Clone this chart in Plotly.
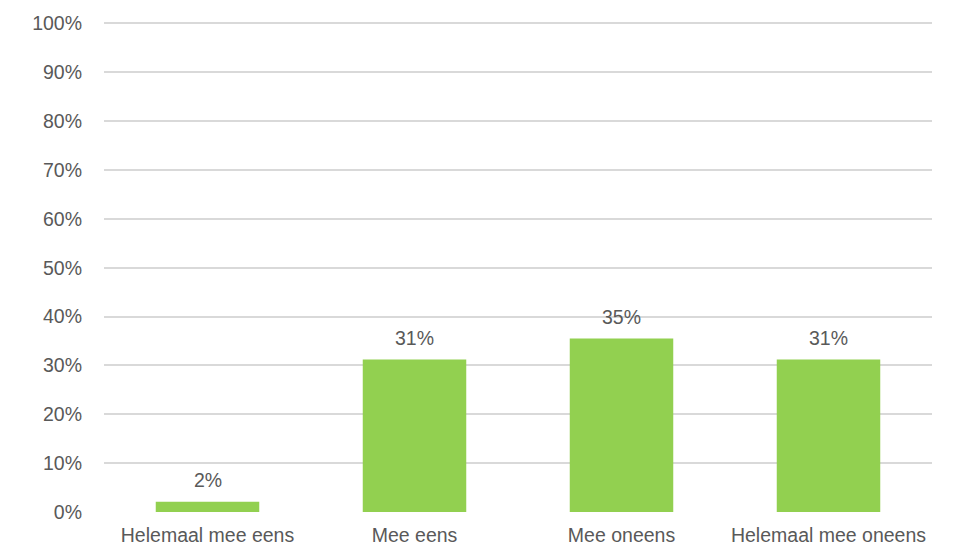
import plotly.graph_objects as go

categories = ["Helemaal mee eens", "Mee eens", "Mee oneens", "Helemaal mee oneens"]
values = [0.021, 0.312, 0.355, 0.312]
value_labels = ["2%", "31%", "35%", "31%"]
y_ticks = [i / 10 for i in range(11)]
y_tick_labels = [f"{i * 10}%" for i in range(11)]

FONT = "Liberation Sans, Arial, sans-serif"
TEXT_COLOR = "#595959"

fig = go.Figure()
fig.add_trace(go.Bar(
    x=categories,
    y=values,
    marker=dict(color="#92D050", line=dict(width=0)),
    hoverinfo="skip",
))

for c, v, t in zip(categories, values, value_labels):
    fig.add_annotation(
        x=c, y=v, text=t, showarrow=False, yanchor="bottom", yshift=9,
        font=dict(family=FONT, size=19.5, color=TEXT_COLOR),
    )

# page body has an 8px default margin, so the figure is 8px smaller
fig.update_layout(
    width=959, height=550,
    margin=dict(l=96, r=35, t=14, b=46, autoexpand=False),
    paper_bgcolor="white", plot_bgcolor="white",
    bargap=0.5,
    showlegend=False,
    font=dict(family=FONT, size=19.5, color=TEXT_COLOR),
)
fig.update_yaxes(
    range=[0, 1.003], tickvals=y_ticks, ticktext=y_tick_labels,
    showgrid=True, gridcolor="#d9d9d9", gridwidth=1.5, automargin=False,
    zeroline=False, showline=False, ticks="", ticklabelstandoff=21,
    tickfont=dict(family=FONT, size=19.5, color=TEXT_COLOR),
)
fig.update_xaxes(
    showgrid=False, zeroline=False, showline=False, ticks="", automargin=False,
    ticklabelstandoff=9,
    tickfont=dict(family=FONT, size=19.5, color=TEXT_COLOR),
)

fig.write_html("out.html")
